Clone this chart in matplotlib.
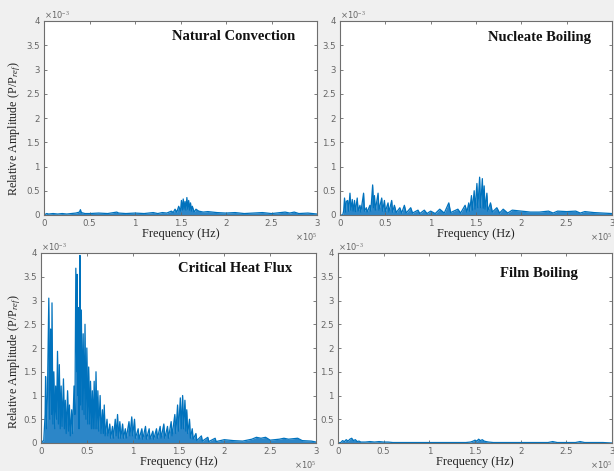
import matplotlib
matplotlib.use("Agg")
import matplotlib.pyplot as plt
import numpy as np

# ---------------- data (frequency in 1e5 Hz, amplitude in 1e-3 P/Pref) -------------
titles = ["Natural Convection", "Nucleate Boiling", "Critical Heat Flux", "Film Boiling"]
x_ticks = [0, 0.5, 1, 1.5, 2, 2.5, 3]
x_tick_labels = ["0", "0.5", "1", "1.5", "2", "2.5", "3"]
y_ticks = [0, 0.5, 1, 1.5, 2, 2.5, 3, 3.5, 4]
y_tick_labels = ["0", "0.5", "1", "1.5", "2", "2.5", "3", "3.5", "4"]

nc_freq = [0.0, 0.03, 0.05, 0.1, 0.15, 0.2, 0.25, 0.3, 0.35, 0.39, 0.40, 0.41, 0.45, 0.5,
           0.6, 0.7, 0.8, 0.82, 0.9, 1.0, 1.1, 1.2, 1.25, 1.3, 1.35, 1.4, 1.42, 1.44, 1.46,
           1.48, 1.50, 1.51, 1.52, 1.53, 1.54, 1.55, 1.56, 1.57, 1.58, 1.59, 1.60, 1.61,
           1.62, 1.63, 1.65, 1.67, 1.70, 1.75, 1.8, 1.9, 2.0, 2.1, 2.2, 2.3, 2.4, 2.5,
           2.6, 2.65, 2.7, 2.75, 2.8, 2.9, 3.0]
nc_amp = [0.0, 0.03, 0.02, 0.03, 0.02, 0.03, 0.02, 0.03, 0.04, 0.06, 0.11, 0.05, 0.03, 0.03,
          0.04, 0.03, 0.06, 0.04, 0.03, 0.04, 0.03, 0.05, 0.03, 0.05, 0.04, 0.08, 0.05, 0.12,
          0.06, 0.18, 0.08, 0.30, 0.10, 0.33, 0.12, 0.28, 0.10, 0.36, 0.12, 0.30, 0.10, 0.25,
          0.08, 0.18, 0.06, 0.12, 0.08, 0.06, 0.07, 0.05, 0.04, 0.05, 0.03, 0.04, 0.05,
          0.03, 0.05, 0.06, 0.04, 0.06, 0.03, 0.04, 0.02]

nb_freq = [0.0, 0.03, 0.04, 0.05, 0.06, 0.07, 0.085, 0.095, 0.11, 0.12, 0.135, 0.145, 0.16,
           0.17, 0.19, 0.20, 0.22, 0.23, 0.26, 0.27, 0.29, 0.30, 0.33, 0.34, 0.36, 0.37,
           0.38, 0.39, 0.42, 0.43, 0.46, 0.47, 0.49, 0.50, 0.53, 0.54, 0.57, 0.58, 0.60,
           0.62, 0.66, 0.68, 0.71, 0.73, 0.78, 0.80, 0.86, 0.88, 0.93, 0.96, 1.0, 1.05, 1.1,
           1.15, 1.2, 1.22, 1.3, 1.33, 1.38, 1.40, 1.42, 1.43, 1.45, 1.46, 1.48, 1.49, 1.51,
           1.52, 1.54, 1.55, 1.57, 1.58, 1.59, 1.60, 1.62, 1.63, 1.66, 1.68, 1.73, 1.76,
           1.8, 1.85, 1.9, 2.0, 2.1, 2.2, 2.3, 2.35, 2.4, 2.5, 2.6, 2.65, 2.7, 2.8, 2.9, 3.0]
nb_amp = [0.0, 0.0, 0.08, 0.35, 0.06, 0.28, 0.30, 0.08, 0.45, 0.10, 0.32, 0.08, 0.30,
          0.07, 0.35, 0.08, 0.20, 0.06, 0.45, 0.08, 0.15, 0.06, 0.20, 0.08, 0.62, 0.15,
          0.40, 0.10, 0.45, 0.10, 0.35, 0.08, 0.30, 0.07, 0.25, 0.06, 0.30, 0.06, 0.20,
          0.05, 0.15, 0.04, 0.20, 0.04, 0.15, 0.04, 0.10, 0.03, 0.10, 0.03, 0.08, 0.03, 0.12,
          0.04, 0.25, 0.05, 0.12, 0.04, 0.20, 0.06, 0.25, 0.08, 0.40, 0.10, 0.50, 0.12, 0.65,
          0.15, 0.78, 0.15, 0.75, 0.14, 0.60, 0.12, 0.45, 0.08, 0.25, 0.06, 0.15, 0.04,
          0.12, 0.04, 0.10, 0.08, 0.06, 0.06, 0.08, 0.04, 0.08, 0.07, 0.08, 0.04, 0.07, 0.05,
          0.04, 0.03]

chf_freq = [0.0, 0.03, 0.045, 0.05, 0.06, 0.07, 0.085, 0.095, 0.105, 0.115, 0.12, 0.13,
            0.14, 0.15, 0.16, 0.17, 0.18, 0.19, 0.20, 0.21, 0.22, 0.23, 0.245, 0.255, 0.265,
            0.275, 0.29, 0.30, 0.31, 0.32, 0.335, 0.345, 0.36, 0.37, 0.38, 0.39, 0.395,
            0.40, 0.41, 0.415, 0.425, 0.43, 0.44, 0.45, 0.46, 0.47, 0.48, 0.49, 0.50, 0.51,
            0.52, 0.53, 0.54, 0.55, 0.56, 0.57, 0.58, 0.59, 0.60, 0.61, 0.62, 0.63, 0.645,
            0.655, 0.67, 0.68, 0.69, 0.70, 0.72, 0.73, 0.75, 0.76, 0.78, 0.79, 0.81, 0.82,
            0.835, 0.845, 0.86, 0.87, 0.89, 0.90, 0.92, 0.93, 0.96, 0.97, 0.99, 1.00, 1.02,
            1.03, 1.06, 1.07, 1.10, 1.11, 1.14, 1.15, 1.18, 1.19, 1.22, 1.23, 1.26, 1.27,
            1.30, 1.31, 1.34, 1.35, 1.38, 1.39, 1.42, 1.43, 1.46, 1.47, 1.49, 1.50, 1.52,
            1.53, 1.545, 1.555, 1.57, 1.58, 1.59, 1.60, 1.62, 1.63, 1.65, 1.66, 1.69, 1.70,
            1.75, 1.76, 1.82, 1.83, 1.90, 1.91, 2.0, 2.1, 2.2, 2.3, 2.35, 2.4, 2.45, 2.5,
            2.6, 2.65, 2.7, 2.8, 2.85, 2.95, 3.0]
chf_amp = [0.02, 0.05, 0.6, 1.4, 0.3, 1.0, 3.05, 0.5, 2.4, 0.6, 2.95, 0.4,
           1.5, 0.3, 1.2, 0.5, 1.93, 0.4, 1.65, 0.3, 1.2, 0.35, 1.35, 0.3, 0.9,
           0.2, 1.1, 0.25, 0.8, 0.15, 0.7, 0.2, 1.2, 0.6, 3.68, 1.5, 3.55,
           1.0, 2.85, 0.3, 3.95, 0.8, 2.8, 0.7, 2.3, 0.6, 2.5, 0.5, 2.0, 0.4,
           1.6, 0.4, 1.3, 0.3, 1.1, 0.3, 1.3, 0.3, 1.5, 0.3, 1.1, 0.25, 1.0,
           0.2, 0.7, 0.2, 0.8, 0.15, 0.5, 0.15, 0.4, 0.1, 0.35, 0.1, 0.5, 0.15,
           0.6, 0.1, 0.45, 0.1, 0.4, 0.1, 0.3, 0.1, 0.45, 0.15, 0.55, 0.15, 0.5,
           0.1, 0.3, 0.08, 0.3, 0.08, 0.35, 0.08, 0.3, 0.08, 0.25, 0.08, 0.3, 0.1,
           0.35, 0.1, 0.4, 0.1, 0.35, 0.1, 0.45, 0.15, 0.6, 0.2, 0.8, 0.25, 0.95,
           0.3, 1.0, 0.3, 0.9, 0.25, 0.7, 0.2, 0.5, 0.1, 0.3, 0.08, 0.2, 0.05,
           0.15, 0.04, 0.12, 0.03, 0.1, 0.03, 0.07, 0.05, 0.04, 0.08, 0.12, 0.1, 0.12, 0.06,
           0.08, 0.1, 0.08, 0.1, 0.05, 0.04, 0.02]

fb_freq = [0.0, 0.03, 0.05, 0.07, 0.09, 0.11, 0.13, 0.15, 0.17, 0.19, 0.21, 0.23, 0.25,
           0.3, 0.35, 0.4, 0.45, 0.5, 0.55, 0.6, 0.7, 0.8, 0.9, 1.0, 1.1, 1.2, 1.3, 1.4,
           1.45, 1.48, 1.50, 1.52, 1.54, 1.56, 1.58, 1.60, 1.62, 1.65, 1.7, 1.8, 1.9, 2.0,
           2.1, 2.2, 2.3, 2.35, 2.4, 2.5, 2.6, 2.65, 2.7, 2.8, 2.9, 3.0]
fb_amp = [0.0, 0.01, 0.05, 0.03, 0.07, 0.04, 0.08, 0.10, 0.05, 0.07, 0.03, 0.04, 0.02,
          0.02, 0.03, 0.02, 0.03, 0.02, 0.02, 0.01, 0.01, 0.01, 0.01, 0.01, 0.01, 0.01, 0.01,
          0.01, 0.02, 0.04, 0.06, 0.04, 0.08, 0.05, 0.07, 0.04, 0.03, 0.02, 0.01, 0.01,
          0.01, 0.01, 0.01, 0.01, 0.01, 0.03, 0.01, 0.01, 0.01, 0.03, 0.01, 0.01, 0.01, 0.0]

series_freq = [nc_freq, nb_freq, chf_freq, fb_freq]
series_amp = [nc_amp, nb_amp, chf_amp, fb_amp]

# ---------------- figure ----------------
W, H = 614, 471
fig = plt.figure(figsize=(W / 100, H / 100), dpi=100, facecolor="#f0f0f0")
plt.rcParams["mathtext.fontset"] = "custom"
plt.rcParams["mathtext.rm"] = "Liberation Serif"
plt.rcParams["mathtext.it"] = "Liberation Serif:italic"

boxes_px = [(44, 21, 317, 215), (340, 21, 612, 215), (41, 253, 316, 443), (338, 253, 612, 443)]
title_px = [(234, 37), (539, 38), (235, 268), (539, 273)]
ylabel_center_px = [(15, 129), None, (15, 362), None]

blue = "#0072BD"
fill_blue = "#2c86c8"
serif = ["Liberation Serif", "DejaVu Serif"]

for i, (l, t, r, b) in enumerate(boxes_px):
    ax = fig.add_axes([l / W, 1 - b / H, (r - l) / W, (b - t) / H])
    ax.set_facecolor("white")
    f = np.array(series_freq[i])
    a = np.array(series_amp[i])
    ax.fill_between(f, 0, a, color=fill_blue, linewidth=0)
    ax.plot(f, a, color=blue, linewidth=0.9)
    ax.set_xlim(0, 3)
    ax.set_ylim(0, 4)
    ax.set_xticks(x_ticks)
    ax.set_xticklabels(x_tick_labels)
    ax.set_yticks(y_ticks)
    ax.set_yticklabels(y_tick_labels)
    ax.tick_params(direction="in", length=2.5, width=0.6, colors="#666666",
                   labelsize=6.2, top=True, right=True, pad=3)
    for sp in ax.spines.values():
        sp.set_color("#6e6e6e")
        sp.set_linewidth(0.8)
    ax.set_xlabel("Frequency (Hz)", family=serif, fontsize=8.8, color="#222222", labelpad=0)
    if ylabel_center_px[i] is not None:
        ax.set_ylabel("Relative Amplitude (P/P$_{ref}$)", family=serif, fontsize=8.7,
                      color="#222222", va="center")
        cx, cy = ylabel_center_px[i]
        ax.yaxis.set_label_coords((cx - l) / (r - l), (b - cy) / (b - t))
    ax.text(0.0, 1.005, "\u00d710$^{-3}$", transform=ax.transAxes, fontsize=6,
            color="#666666", ha="left", va="bottom")
    ax.text(1.0, -0.085, "\u00d710$^{5}$", transform=ax.transAxes, fontsize=6,
            color="#666666", ha="right", va="top")
    tx, ty = title_px[i]
    fig.text(tx / W, 1 - ty / H, titles[i], family=serif, fontweight="bold",
             fontsize=10.5, color="#111111", ha="center", va="center")

fig.savefig("out.png", dpi=100, facecolor=fig.get_facecolor())
